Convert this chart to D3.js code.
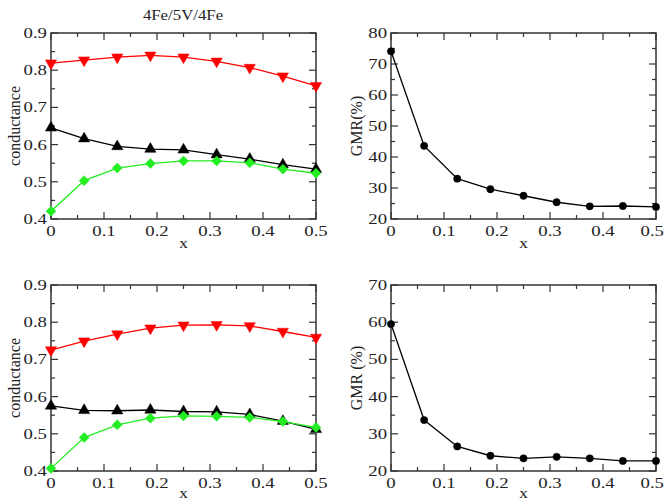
<!DOCTYPE html>
<html><head><meta charset="utf-8">
<script src="https://cdn.jsdelivr.net/npm/d3@7"></script>
<style>body{margin:0;background:#fff}text{font-family:"Liberation Serif","Times New Roman",serif;fill:#222}</style>
</head><body><svg id="c" width="665" height="502"></svg>
<script>
const xs = [0, 0.0625, 0.125, 0.1875, 0.25, 0.3125, 0.375, 0.4375, 0.5];
const xTicks = [0, 0.1, 0.2, 0.3, 0.4, 0.5];
// top-left: conductance
const tlRed   = [0.819, 0.827, 0.835, 0.840, 0.835, 0.824, 0.807, 0.784, 0.758];
const tlBlack = [0.645, 0.616, 0.595, 0.588, 0.586, 0.573, 0.561, 0.546, 0.534];
const tlGreen = [0.421, 0.503, 0.537, 0.549, 0.556, 0.556, 0.551, 0.534, 0.523];
// bottom-left: conductance
const blRed   = [0.725, 0.749, 0.768, 0.784, 0.792, 0.793, 0.790, 0.775, 0.759];
const blBlack = [0.575, 0.563, 0.562, 0.564, 0.560, 0.559, 0.552, 0.534, 0.512];
const blGreen = [0.407, 0.490, 0.524, 0.542, 0.548, 0.547, 0.544, 0.533, 0.517];
// GMR
const trGMR = [74.1, 43.6, 33.0, 29.6, 27.5, 25.4, 24.1, 24.2, 23.9];
const brGMR = [59.5, 33.7, 26.6, 24.1, 23.4, 23.8, 23.4, 22.7, 22.7];
const condTicks = [0.4, 0.5, 0.6, 0.7, 0.8, 0.9];
const gmrTicksTop = [20, 30, 40, 50, 60, 70, 80];
const gmrTicksBot = [20, 30, 40, 50, 60, 70];
const titleText = "4Fe/5V/4Fe";

const svg = d3.select("#c");
function T(g, x, y, str, size, anchor, sx) {
  return g.append("text").attr("transform", `translate(${x},${y}) scale(${sx||1.25},1)`)
    .attr("text-anchor", anchor).attr("font-size", size).text(str);
}
const panels = [
  {x0:51, x1:316, y0:33, y1:219, yd:[0.4,0.9], yt:condTicks, ym:0.05, ylab:"conductance", ylx:15, fmt:d=>d.toFixed(1), xly:29,
   series:[{v:tlRed,c:"#ff0000",m:"tdown"},{v:tlBlack,c:"#000",m:"tup"},{v:tlGreen,c:"#22ee22",m:"diamond"}]},
  {x0:391, x1:656, y0:33, y1:219, yd:[20,80], yt:gmrTicksTop, ym:5, ylab:"GMR(%)", ylx:357, fmt:d=>d, xly:29,
   series:[{v:trGMR,c:"#000",m:"circle"}]},
  {x0:51, x1:316, y0:285, y1:471, yd:[0.4,0.9], yt:condTicks, ym:0.05, ylab:"conductance", ylx:15, fmt:d=>d.toFixed(1), xly:27,
   series:[{v:blRed,c:"#ff0000",m:"tdown"},{v:blBlack,c:"#000",m:"tup"},{v:blGreen,c:"#22ee22",m:"diamond"}]},
  {x0:391, x1:656, y0:285, y1:471, yd:[20,70], yt:gmrTicksBot, ym:5, ylab:"GMR (%)", ylx:357, fmt:d=>d, xly:27,
   series:[{v:brGMR,c:"#000",m:"circle"}]}
];

const xMinor = d3.range(0, 0.5001, 0.05);
panels.forEach(p => {
  const x = d3.scaleLinear().domain([0,0.5]).range([p.x0,p.x1]);
  const y = d3.scaleLinear().domain(p.yd).range([p.y1,p.y0]);
  const g = svg.append("g");
  const yMinor = d3.range(p.yd[0], p.yd[1]+1e-9, p.ym);
  const tk = g.append("g").attr("stroke","#333").attr("stroke-width",1.2);
  xMinor.forEach((v,i) => {
    const L = (i%2===0)?7:4;
    tk.append("line").attr("x1",x(v)).attr("x2",x(v)).attr("y1",p.y1).attr("y2",p.y1-L);
    tk.append("line").attr("x1",x(v)).attr("x2",x(v)).attr("y1",p.y0).attr("y2",p.y0+L);
  });
  yMinor.forEach((v,i) => {
    const L = (i%2===0)?7:4;
    tk.append("line").attr("y1",y(v)).attr("y2",y(v)).attr("x1",p.x0).attr("x2",p.x0+L);
    tk.append("line").attr("y1",y(v)).attr("y2",y(v)).attr("x1",p.x1).attr("x2",p.x1-L);
  });
  g.append("rect").attr("x",p.x0).attr("y",p.y0).attr("width",p.x1-p.x0).attr("height",p.y1-p.y0)
    .attr("fill","none").attr("stroke","#333").attr("stroke-width",1.5);
  xTicks.forEach(d => {
    const px = x(d);
    if (px + 12 > 664) T(g, 664, p.y1+17, d.toFixed(1), 15, "end");
    else T(g, px, p.y1+17, d===0?"0":d.toFixed(1), 15, "middle");
  });
  p.yt.forEach(d => T(g, p.x0-4, y(d)+5, p.fmt(d), 15, "end"));
  T(g, (p.x0+p.x1)/2, p.y1+p.xly, "x", 15, "middle", 1.15);
  g.append("text").attr("transform",`translate(${p.ylx+5},${(p.y0+p.y1)/2}) rotate(-90)`).attr("text-anchor","middle")
    .attr("font-size",16).text(p.ylab);
  const line = d3.line().x((d,i)=>x(xs[i])).y(d=>y(d));
  p.series.forEach(s => {
    g.append("path").datum(s.v).attr("d",line).attr("fill","none").attr("stroke",s.c).attr("stroke-width",1.3);
    const sym = s.m==="circle" ? d3.symbol(d3.symbolCircle,42) :
                s.m==="diamond" ? d3.symbol(d3.symbolSquare,50) : d3.symbol(d3.symbolTriangle,55);
    const rot = s.m==="tdown" ? 180 : s.m==="diamond" ? 45 : 0;
    g.selectAll(null).data(s.v).join("path").attr("d",sym)
      .attr("transform",(d,i)=>`translate(${x(xs[i])},${y(d)}) rotate(${rot})`)
      .attr("fill",s.c).attr("stroke",s.c).attr("stroke-width",0.5);
  });
});
T(svg, 183, 20, titleText, 14, "middle", 1.2);
</script></body></html>
